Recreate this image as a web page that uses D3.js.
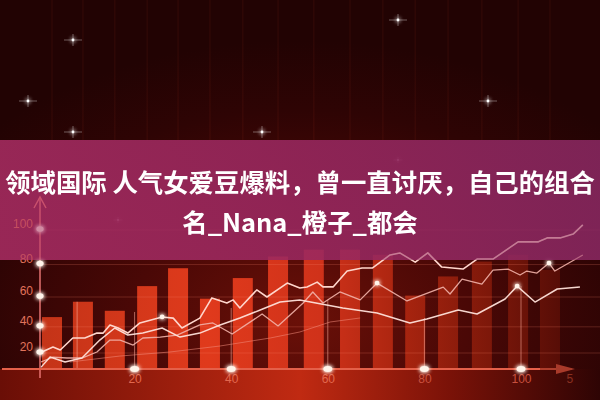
<!DOCTYPE html>
<html><head><meta charset="utf-8">
<script src="https://cdn.jsdelivr.net/npm/d3@7"></script>
<style>html,body{margin:0;padding:0;background:#220303;}svg{display:block}</style>
</head><body>
<svg id="c" width="600" height="400"></svg>
<script>
// ---------- data ----------
const titleLines = ["领域国际 人气女爱豆爆料，曾一直讨厌，自己的组合", "名_Nana_橙子_都会"];
const yTicks = [20, 40, 60, 80, 100];
const xTicks = [20, 40, 60, 80, 100, 110];
const xTickLabels = ["20", "40", "60", "80", "100", "5"];
const barX = [2.9, 9.3, 15.9, 22.6, 29.0, 35.6, 42.4, 49.7, 57.1, 64.6, 71.4, 78.1, 84.9, 91.9, 99.4, 106.0];
const barValues = [44.7, 55, 49, 65, 76, 57, 70, 83, 87, 87, 84, 59, 71, 80, 84, 75];
const lineAx = [0.8,3.1,4.6,7.2,9.7,12.2,13.5,14.9,16.6,18.6,21.1,25.7,28,29.8,33.5,36,39.1,40.4,41.8,45.3,47.4,51.6,54.2,55.7,57.8,59,61.1,64,67.1,69.2,72.9,74.9,78.1,80.7,83.6,88,90.9,94.2,99.4,103.5,105.4,108.1,110.8,112.8];
const lineAy = [18.3,22.5,20,29.6,29.6,33.3,33.3,39.2,37,33.3,40.6,44.8,44,37,44,57.5,54.2,56.2,50.9,62.6,58.1,66.9,63.8,64.5,67.5,64.5,64.5,74.3,76.1,76.1,83.9,85.1,79.7,85.1,76.7,75.5,81.5,81.5,91.5,91.5,93.8,93.8,96,101.2];
const lineBx = [0.6,3.1,6.0,9.1,12.2,14.9,17.0,19.7,21.7,25.3,28.8,33.5,36.2,40.2,46.4,49.7,54.9,56.9,59.0,62.5,66.7,70.2,76.4,83.9,85.3,87.8,91.9,94.2,97.3,99.8,101.2,103.3,105.8,107.0,112.8];
const lineBy = [9.0,13.8,12.9,12.9,18.3,28.0,28.0,24.1,29.6,30.3,31.8,39.2,40.6,32.6,46.8,38.5,54.2,61.3,54.2,61.3,56.2,66.9,55.5,64.4,60.0,69.4,66.3,74.9,75.5,71.9,74.3,73.1,79.1,74.3,83.9];
const lineCx = [0.6,2.5,5.6,9.1,12.8,15.9,18.6,21.7,25.7,29.4,33.5,37.7,41.8,46.0,50.1,54.2,63.1,70.2,77.0,80.5,87.0,90.9,96.7,99.2,102.9,107.5,112.2];
const lineCy = [2.8,13.8,9.0,12.9,28.0,37.0,31.8,33.3,37.0,30.3,33.3,39.2,44.1,49.5,54.8,56.2,50.9,47.5,40.6,43.4,49.5,46.8,56.8,65.0,54.8,63.2,64.4];
const lineDx = [6.6,16.9,27.3,37.7,48.1,54.2,60.5,66.7];
const lineDy = [9.0,14.7,18.3,23.3,29.6,34.1,41.3,44.1];
const markX = [25.7, 70.2, 105.8, 99.2];
const markY = [44.8, 66.9, 79.1, 65.0];
const dropX = [8.1, 20, 40, 60, 80, 100];
const dropTop = [55, 48.2, 50.9, 56.2, 44.1, 65.0];

// ---------- setup ----------
const W = 600, H = 400;
const svg = d3.select("#c");
const defs = svg.append("defs");
function grad(type, id, attrs, stops) {
  const g = defs.append(type).attr("id", id);
  Object.entries(attrs).forEach(([k, v]) => g.attr(k, v));
  stops.forEach(([o, c, op]) => g.append("stop").attr("offset", o).attr("stop-color", c).attr("stop-opacity", op == null ? 1 : op));
}
grad("radialGradient", "bg", {cx: "50%", cy: "80%", r: "70%"},
  [[0, "#6a1008"], [0.4, "#4a0806"], [0.75, "#2e0404"], [1, "#220303"]]);
grad("linearGradient", "band", {x1: 0, x2: 1, y1: 0, y2: 0},
  [[0, "#6a0e06"], [0.5, "#c02a12"], [0.75, "#7a1208"], [1, "#2e0404"]]);
grad("linearGradient", "barg", {gradientUnits: "userSpaceOnUse", x1: 40, x2: 600, y1: 0, y2: 0},
  [[0, "#c43418"], [0.3, "#e03a1c"], [0.5, "#d0321a"], [0.65, "#a8240f"], [0.8, "#7e180a"], [1, "#420704"]]);
grad("linearGradient", "banner", {x1: 0, x2: 1, y1: 0, y2: 0},
  [[0, "#a82c62"], [0.5, "#9a2860"], [1, "#8a2862"]]);

const glow = defs.append("filter").attr("id", "glow")
  .attr("x", "-300%").attr("y", "-300%").attr("width", "700%").attr("height", "700%");
glow.append("feGaussianBlur").attr("stdDeviation", 2.2).attr("result", "b");
const gm = glow.append("feMerge");
gm.append("feMergeNode").attr("in", "b");
gm.append("feMergeNode").attr("in", "b");
gm.append("feMergeNode").attr("in", "SourceGraphic");

defs.append("clipPath").attr("id", "bannerClip").append("rect")
  .attr("x", 0).attr("y", 140).attr("width", W).attr("height", 120);

const x = d3.scaleLinear().domain([0, 110]).range([38, 569.3]);
const y = d3.scalePow().exponent(1.25).domain([0, 100]).range([369, 227]);

// ---------- background ----------
svg.append("rect").attr("width", W).attr("height", H).attr("fill", "url(#bg)");
svg.append("rect").attr("x", 0).attr("y", 369).attr("width", W).attr("height", 31).attr("fill", "url(#band)");

// faint vertical streaks in the dark top area
svg.append("g").selectAll("line").data(barX).join("line")
  .attr("x1", d => x(d)).attr("x2", d => x(d)).attr("y1", 0).attr("y2", 140)
  .attr("stroke", "#ff6040").attr("stroke-opacity", 0.06).attr("stroke-width", 1.5);

// stars
const stars = [[398, 20], [73, 40], [28, 101], [488, 101], [73, 132], [262, 132], [118, 220], [398, 160]];
const sg = svg.append("g");
stars.forEach(([sx, sy], i) => {
  const s = i >= 6 ? 0.5 : 1;
  sg.append("line").attr("x1", sx - 9 * s).attr("x2", sx + 9 * s).attr("y1", sy).attr("y2", sy)
    .attr("stroke", "#fff").attr("stroke-opacity", 0.45 * s).attr("stroke-width", 0.8);
  sg.append("line").attr("x1", sx).attr("x2", sx).attr("y1", sy - 6 * s).attr("y2", sy + 6 * s)
    .attr("stroke", "#fff").attr("stroke-opacity", 0.45 * s).attr("stroke-width", 0.8);
  sg.append("circle").attr("cx", sx).attr("cy", sy).attr("r", 1.4 * s).attr("fill", "#fff").attr("filter", "url(#glow)");
});

// ---------- bars ----------
const barW = 20;
svg.append("g").selectAll("rect").data(barX).join("rect")
  .attr("x", d => x(d) - barW / 2).attr("width", barW)
  .attr("y", (d, i) => y(barValues[i])).attr("height", (d, i) => y(0) - y(barValues[i]))
  .attr("fill", "url(#barg)");

// gridlines
svg.append("g").selectAll("line").data(yTicks).join("line")
  .attr("x1", 40).attr("x2", W).attr("y1", d => y(d) + 3).attr("y2", d => y(d) + 3)
  .attr("stroke", "#ff8a70").attr("stroke-opacity", 0.22).attr("stroke-width", 1);

// drop lines
svg.append("g").selectAll("line").data(dropX).join("line")
  .attr("x1", d => x(d)).attr("x2", d => x(d))
  .attr("y1", y(0)).attr("y2", (d, i) => y(dropTop[i]))
  .attr("stroke", "#ffb0a0").attr("stroke-opacity", 0.55).attr("stroke-width", 1);

// ---------- lines + axes (drawn twice: full, then faint on top of the banner) ----------
const series = [
  {xs: lineDx, ys: lineDy, color: "#f08a7a", w: 1, op: 0.55},
  {xs: lineBx, ys: lineBy, color: "#f2b2aa", w: 1.3, op: 0.9},
  {xs: lineCx, ys: lineCy, color: "#ffe2da", w: 1.5, op: 0.95},
  {xs: lineAx, ys: lineAy, color: "#ffd6cc", w: 1.6, op: 1}
];
const lineGen = d3.line().x(d => x(d[0])).y(d => y(d[1]));

function drawOverlayStuff(g) {
  series.forEach(s => {
    g.append("path").datum(s.xs.map((v, i) => [v, s.ys[i]]))
      .attr("d", lineGen).attr("fill", "none")
      .attr("stroke", s.color).attr("stroke-width", s.w).attr("stroke-opacity", s.op)
      .attr("stroke-linejoin", "round");
  });
  // y axis
  g.append("line").attr("x1", 40).attr("x2", 40).attr("y1", 378).attr("y2", 198)
    .attr("stroke", "#f07a78").attr("stroke-width", 1.4);
  g.append("path").attr("d", "M34,208 L40,197 L46,208").attr("fill", "none")
    .attr("stroke", "#f07a78").attr("stroke-width", 1.4);
  const ya = g.append("g").attr("transform", "translate(40,-3)")
    .call(d3.axisLeft(y).tickValues(yTicks).tickSize(0).tickPadding(7));
  ya.select(".domain").remove();
  ya.selectAll("text").attr("fill", "#e2735c").attr("font-size", 12)
    .attr("font-family", "Liberation Sans, Arial, sans-serif");
  g.append("g").selectAll("ellipse").data(yTicks).join("ellipse")
    .attr("cx", 40).attr("cy", d => y(d) + 2).attr("rx", 3.6).attr("ry", 2.8)
    .attr("fill", "#fff4ea").attr("filter", "url(#glow)");
}
drawOverlayStuff(svg.append("g"));

// x axis
svg.append("line").attr("x1", 2).attr("x2", 560).attr("y1", 369).attr("y2", 369)
  .attr("stroke", "#e4604a").attr("stroke-width", 1.8);
svg.append("line").attr("x1", 540).attr("x2", 572).attr("y1", 369).attr("y2", 369)
  .attr("stroke", "#a83a2a").attr("stroke-width", 1.8);
svg.append("path").attr("d", "M556,364 L575,369 L556,374 Z").attr("fill", "#a83a2a");
const xa = svg.append("g").attr("transform", "translate(0,369)")
  .call(d3.axisBottom(x).tickValues(xTicks).tickSize(0).tickPadding(5)
    .tickFormat((d, i) => xTickLabels[i]));
xa.select(".domain").remove();
xa.selectAll("text").attr("fill", (d, i) => i === 5 ? "#8a3020" : (i >= 3 ? "#c8503e" : "#e2684e"))
  .attr("font-size", 12).attr("font-family", "Liberation Sans, Arial, sans-serif");
svg.append("g").selectAll("ellipse").data(xTicks.slice(0, 5)).join("ellipse")
  .attr("cx", d => x(d)).attr("cy", 369).attr("rx", 4.5).attr("ry", 3)
  .attr("fill", "#fff4ea").attr("filter", "url(#glow)");

// highlighted vertices
svg.append("g").selectAll("circle").data(markX).join("circle")
  .attr("cx", d => x(d)).attr("cy", (d, i) => y(markY[i])).attr("r", 2.4)
  .attr("fill", "#fff4ea").attr("filter", "url(#glow)");

// ---------- banner ----------
svg.append("rect").attr("x", 0).attr("y", 140).attr("width", W).attr("height", 120)
  .attr("fill", "url(#banner)").attr("fill-opacity", 0.87);
const ov = svg.append("g").attr("clip-path", "url(#bannerClip)").attr("opacity", 0.4);
drawOverlayStuff(ov);

svg.append("g").selectAll("text").data(titleLines).join("text")
  .attr("x", 300).attr("y", (d, i) => i === 0 ? 181 : 221)
  .attr("text-anchor", "middle").attr("dominant-baseline", "central")
  .attr("fill", "#ffffff").attr("font-size", 25.4).attr("font-weight", 700)
  .attr("font-family", "Noto Sans CJK SC, sans-serif")
  .text(d => d);
</script>
</body></html>
